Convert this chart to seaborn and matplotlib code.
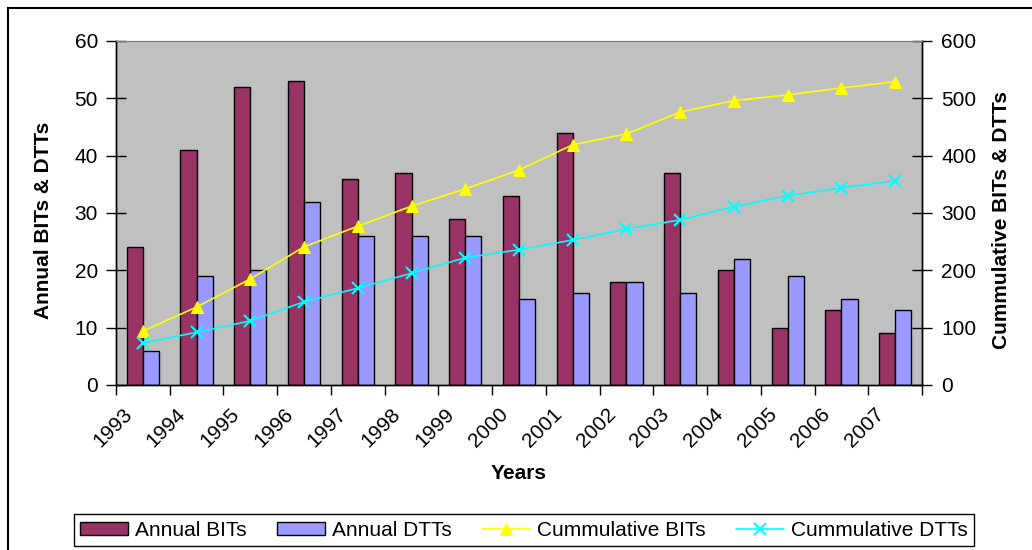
import numpy as np
import pandas as pd
import matplotlib
matplotlib.use('Agg')
import matplotlib.pyplot as plt
from matplotlib.patches import Rectangle
import seaborn as sns

years = ['1993', '1994', '1995', '1996', '1997', '1998', '1999', '2000',
         '2001', '2002', '2003', '2004', '2005', '2006', '2007']
annual_bits = [24, 41, 52, 53, 36, 37, 29, 33, 44, 18, 37, 20, 10, 13, 9]
annual_dtts = [6, 19, 20, 32, 26, 26, 26, 15, 16, 18, 16, 22, 19, 15, 13]
cum_bits = [94, 136, 185, 241, 277, 312, 342, 375, 419, 438, 476, 496, 506, 518, 529]
cum_dtts = [73, 92, 112, 145, 169, 195, 222, 236, 253, 272, 288, 311, 330, 344, 356]

sns.set_style('white')
plt.rcParams['font.family'] = ['Liberation Sans', 'DejaVu Sans']
plt.rcParams['text.color'] = 'black'
plt.rcParams['axes.labelcolor'] = 'black'
plt.rcParams['xtick.color'] = 'black'
plt.rcParams['ytick.color'] = 'black'

FS = 15

df = pd.DataFrame({
    'Year': years * 2,
    'Value': annual_bits + annual_dtts,
    'Series': ['Annual BITs'] * len(years) + ['Annual DTTs'] * len(years),
})

fig = plt.figure(figsize=(10.32, 5.5), dpi=100)
ax = fig.add_axes([116 / 1032, 1 - 385 / 550, (922 - 116) / 1032, (385 - 41) / 550])
ax.set_facecolor('#C0C0C0')

sns.barplot(data=df, x='Year', y='Value', hue='Series', order=years,
            palette=['#993366', '#9999FF'], width=0.6, gap=0,
            edgecolor='black', linewidth=1, saturation=1, ax=ax)

ax2 = ax.twinx()
x = np.arange(len(years))
sns.lineplot(x=x, y=cum_bits, color='#FFFF00', marker='^', markersize=9,
             markeredgecolor='#FFFF00', linewidth=1.2, label='Cummulative BITs', ax=ax2)
sns.lineplot(x=x, y=cum_dtts, color='#00FFFF', marker='x', markersize=8,
             markeredgewidth=1.5, markeredgecolor='#00FFFF', linewidth=1.2,
             label='Cummulative DTTs', ax=ax2)

ax.set_xlim(-0.5, len(years) - 0.5)
ax.set_ylim(0, 60)
ax2.set_ylim(0, 600)
ax.set_yticks(range(0, 61, 10))
ax2.set_yticks(range(0, 601, 100))

# ticks at category boundaries, labels shifted left of category centers
ax.set_xticks(np.arange(-0.5, len(years), 1.0), minor=True)
ax.set_xticks(x - 0.26, years)
ax.tick_params(axis='x', which='major', length=0, pad=19, labelsize=FS,
               rotation=45)
for lab in ax.get_xticklabels():
    lab.set_ha('right')
    lab.set_va('center')
    lab.set_rotation_mode('anchor')
ax.tick_params(axis='x', which='minor', direction='out', length=7, width=1,
               color='black', bottom=True)
ax.tick_params(axis='y', direction='inout', length=14, width=1, labelsize=FS,
               pad=6, color='black', left=True)
ax2.tick_params(axis='y', direction='inout', length=14, width=1, labelsize=FS,
                pad=7, color='black', right=True)

ax.set_xlabel('Years', fontsize=FS, fontweight='bold')
ax.xaxis.set_label_coords(0.5, (385 - 464) / 344)
ax.set_ylabel('Annual BITs & DTTs', fontsize=FS, fontweight='bold')
ax.yaxis.set_label_coords((53 - 116) / 806, 0.48)
ax2.set_ylabel('Cummulative BITs & DTTs', fontsize=FS, fontweight='bold')
ax2.yaxis.set_label_coords((992 - 116) / 806, 0.48)

for a in (ax, ax2):
    for s in ('left', 'bottom', 'right'):
        a.spines[s].set_color('black')
        a.spines[s].set_linewidth(1)
    a.spines['top'].set_color('#808080')

h1, l1 = ax.get_legend_handles_labels()
h2, l2 = ax2.get_legend_handles_labels()
ax.get_legend().remove()
ax2.get_legend().remove()
leg = fig.legend(h1 + h2, l1 + l2, loc='center', bbox_to_anchor=(524 / 1032, 1 - 530 / 550),
                 ncol=4, fontsize=FS, frameon=True, fancybox=False, framealpha=1,
                 edgecolor='black', handlelength=2.3, handleheight=0.6,
                 handletextpad=0.35, columnspacing=1.45, borderpad=0.3)
leg.get_frame().set_linewidth(1)

fig.add_artist(Rectangle((8 / 1032, -0.1), 1.2, 1.1 - 8 / 550,
                         transform=fig.transFigure, fill=False,
                         edgecolor='black', linewidth=1.5))

fig.savefig('out.png', dpi=100)
